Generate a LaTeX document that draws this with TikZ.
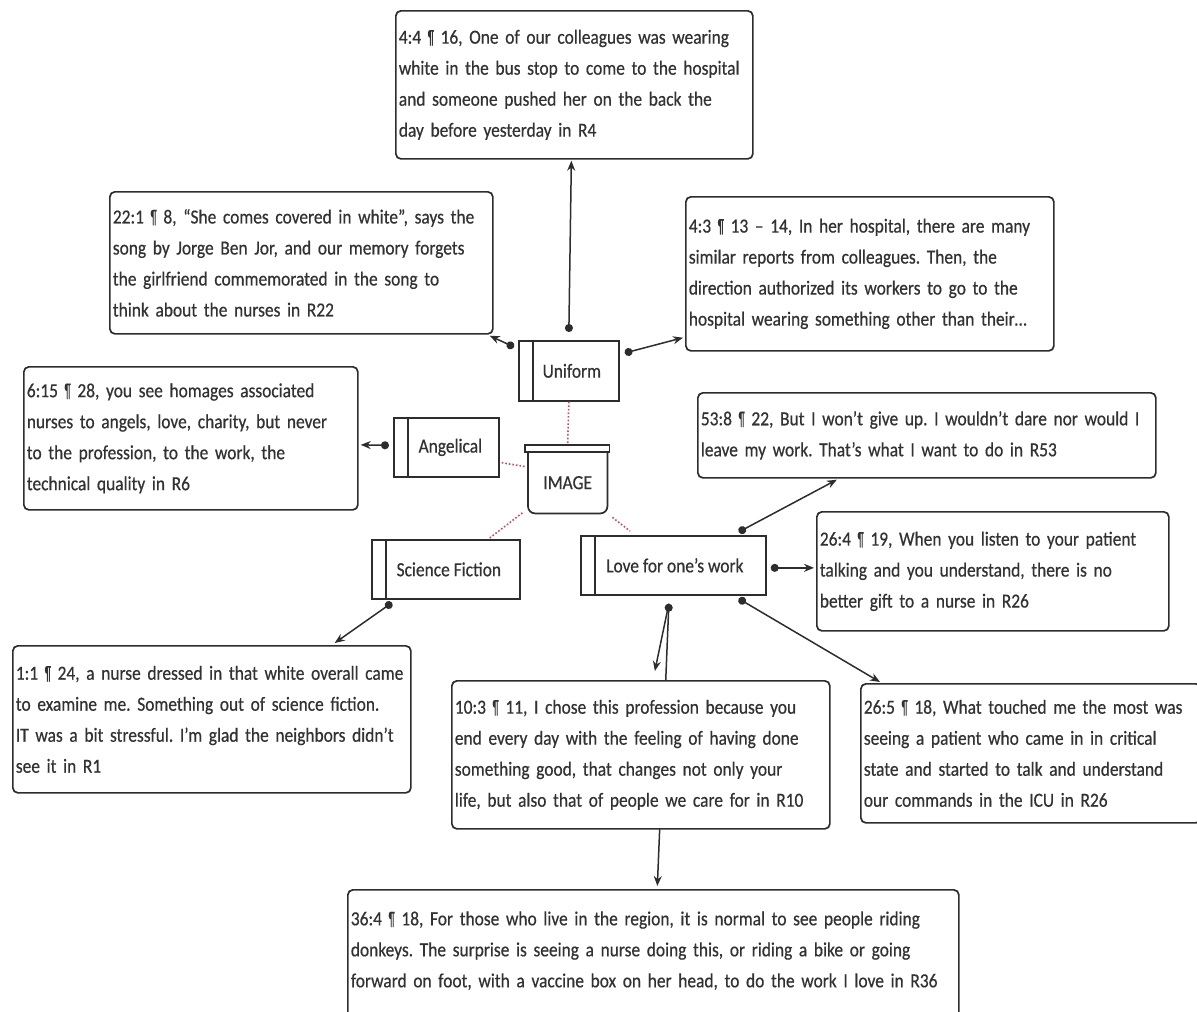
\documentclass[tikz,border=0pt]{standalone}
\usepackage{fontspec}
\setmainfont{Carlito}[FakeStretch=0.87,FakeBold=0.5]
\usetikzlibrary{arrows.meta,calc,backgrounds}
\definecolor{dotred}{RGB}{214,70,90}
\definecolor{ink}{RGB}{50,50,50}
\definecolor{edge}{RGB}{45,45,45}
\newcommand\pil{\scalebox{0.6}[1]{¶}}
\frenchspacing
\begin{document}
\begin{tikzpicture}[x=1pt,y=-1pt,
  quote/.style={draw=edge, line width=1.7pt, rounded corners=5pt, fill=white, anchor=north west,
    align=left, inner xsep=3pt, inner ysep=0pt, text=ink, font=\fontsize{20}{31}\selectfont},
  tag/.style={draw=edge, line width=1.7pt, fill=white, anchor=north west, inner sep=0pt,
    text=ink, font=\fontsize{20}{23}\selectfont,
    path picture={\draw[line width=1.7pt, edge] ([xshift=14pt]path picture bounding box.north west) -- ([xshift=14pt]path picture bounding box.south west);}},
  conn/.style={line width=1.5pt, draw=edge, arrows={Circle[length=8pt]-Stealth[length=10pt,width=8pt]}},
  plainconn/.style={line width=1.5pt, draw=edge, arrows={-Stealth[length=10pt,width=8pt]}},
  dotline/.style={line width=1.6pt, dotted, draw=dotred}]
\useasboundingbox (0,0) rectangle (1197,1012);

% quote boxes
\node[quote, text width=351pt, minimum height=148pt] (r4) at (395,10)
 {4:4 \pil{} 16, One of our colleagues was wearing\\white in the bus stop to come to the hospital\\and someone pushed her on the back the\\day before yesterday in R4};
\node[quote, text width=377pt, minimum height=142pt] (r22) at (109,191)
 {22:1 \pil{} 8, “She comes covered in white”, says the\\song by Jorge Ben Jor, and our memory forgets\\the girlfriend commemorated in the song to\\think about the nurses in R22};
\node[quote, text width=362pt, minimum height=154pt] (r43) at (685,196)
 {4:3 \pil{} 13 – 14, In her hospital, there are many\\similar reports from colleagues. Then, the\\direction authorized its workers to go to the\\hospital wearing something other than their…};
\node[quote, text width=328pt, minimum height=143pt] (r6) at (23,366)
 {6:15 \pil{} 28, you see homages associated\\nurses to angels, love, charity, but never\\to the profession, to the work, the\\technical quality in R6};
\node[quote, text width=452pt, minimum height=85pt] (r53) at (697,392)
 {\mbox{53:8 \pil{} 22, But I won’t give up. I wouldn’t dare nor would I}\\leave my work. That’s what I want to do in R53};
\node[quote, text width=346pt, minimum height=119pt] (r264) at (816,511)
 {26:4 \pil{} 19, When you listen to your patient\\talking and you understand, there is no\\better gift to a nurse in R26};
\node[quote, text width=392pt, minimum height=147pt] (r1) at (12,645)
 {\mbox{1:1 \pil{} 24, a nurse dressed in that white overall came}\\\mbox{to examine me. Something out of science fiction.}\\\mbox{IT was a bit stressful. I’m glad the neighbors didn’t}\\see it in R1};
\node[quote, text width=334pt, minimum height=139pt] (r265) at (860,683)
 {26:5 \pil{} 18, What touched me the most was\\seeing a patient who came in in critical\\state and started to talk and understand\\our commands in the ICU in R26};
\node[quote, text width=605pt, minimum height=150pt] (r36) at (347,889)
 {36:4 \pil{} 18, For those who live in the region, it is normal to see people riding\\donkeys. The surprise is seeing a nurse doing this, or riding a bike or going\\forward on foot, with a vaccine box on her head, to do the work I love in R36\\\mbox{}};

% code nodes
\node[tag, minimum width=100pt, minimum height=60pt] (uniform) at (518,340) {\hspace*{6pt}Uniform};
\node[tag, minimum width=105pt, minimum height=59pt] (angelical) at (393,417) {\hspace*{8pt}Angelical};
\node[tag, minimum width=148pt, minimum height=59pt] (sf) at (371,539) {\hspace*{6pt}Science Fiction};
\node[tag, minimum width=185pt, minimum height=59pt] (love) at (580,535) {\hspace*{3pt}Love for one’s work};

% IMAGE node
\node[anchor=north west, minimum width=79pt, minimum height=61pt, inner sep=0pt, text=ink,
  font=\fontsize{20}{23}\selectfont] (image) at (528,452) {IMAGE};
\begin{pgfonlayer}{background}
\draw[line width=1.7pt, edge, fill=white, rounded corners=7pt]
  (image.north west) -- (image.south west) -- (image.south east) -- (image.north east);
\draw[line width=1.7pt, edge, fill=white]
  ($(image.north west)+(-3,0)$) rectangle ($(image.north east)+(2,-7)$);
\end{pgfonlayer}

% dotted relations
\draw[dotline] (uniform.south) -- ($(image.north)+(0,-9)$);
\draw[dotline] ($(angelical.south east)+(2,-15)$) -- ($(image.west)+(-2,-16)$);
\draw[dotline] ($(sf.north east)+(-31,-1)$) -- ($(image.south west)+(-5,-1)$);
\draw[dotline] ($(image.south east)+(5,4)$) -- ($(love.north west)+(50,-4)$);

% connectors
\draw[conn] ($(uniform.north)+(0,-8)$) -- ($(r4.south)+(-3,1)$);
\draw[conn] ($(uniform.north west)+(-4,7)$) -- ($(r22.south east)+(-4,1)$);
\draw[conn] ($(uniform.north east)+(5,13)$) -- ($(r43.south west)+(-2,-14)$);
\draw[conn] ($(angelical.west)+(-4,-2)$) -- ($(r6.east)+(2,6.5)$);
\draw[conn] ($(sf.south west)+(21,3)$) -- ($(r1.north east)+(-77,-2)$);
\draw[conn] ($(love.north east)+(-28,-3)$) -- ($(r53.south)+(-90,1)$);
\draw[conn] ($(love.east)+(4,2.5)$) -- ($(r264.west)+(-2,-3.5)$);
\draw[conn] ($(love.south east)+(-28,3)$) -- ($(r265.north west)+(20,-1)$);
\draw[conn] ($(love.south)+(-4.5,8)$) -- ($(r36.north)+(4,-3)$);

% R10 drawn over the long connector
\node[quote, text width=372pt, minimum height=148pt] (r10) at (451,680)
 {10:3 \pil{} 11, I chose this profession because you\\end every day with the feeling of having done\\something good, that changes not only your\\life, but also that of people we care for in R10};
\draw[plainconn] ($(love.south)+(-4.5,8)$) -- ($(r10.north)+(14,-9)$);
\end{tikzpicture}
\end{document}
